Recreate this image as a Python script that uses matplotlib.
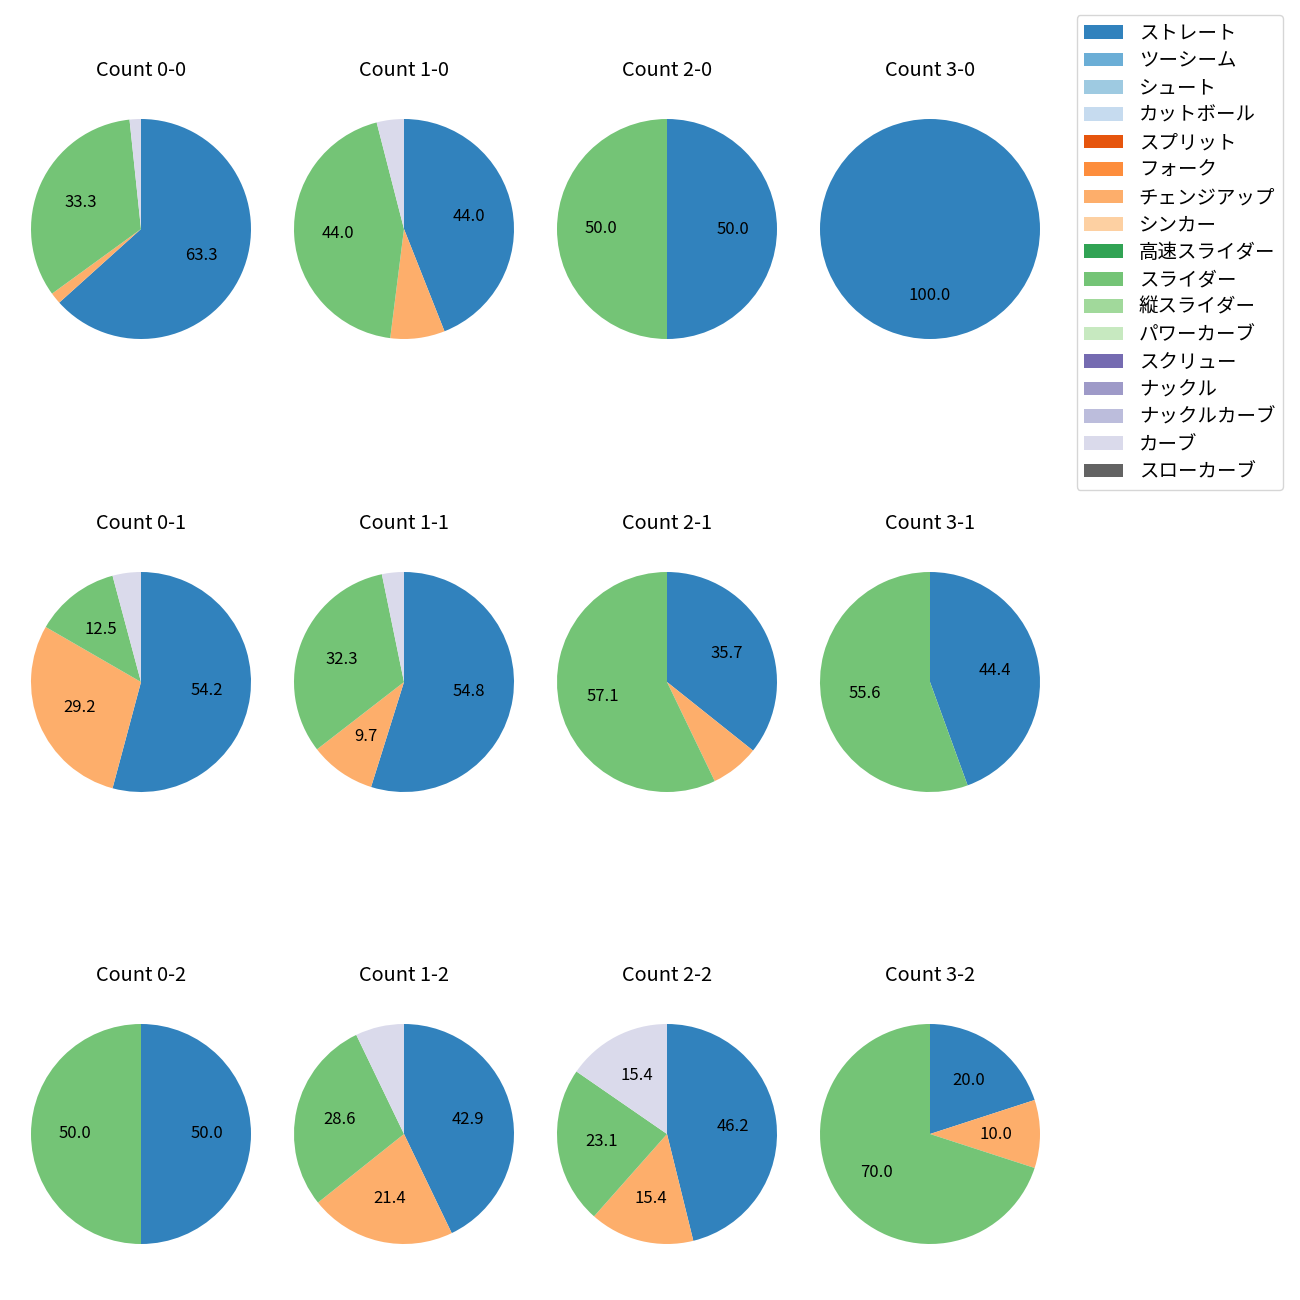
import matplotlib.pyplot as plt
from matplotlib.patches import Patch

plt.rcParams['font.family'] = ['Noto Sans CJK JP', 'DejaVu Sans']
plt.rcParams['font.size'] = 12

pitch_types = ["ストレート", "ツーシーム", "シュート", "カットボール", "スプリット", "フォーク",
               "チェンジアップ", "シンカー", "高速スライダー", "スライダー", "縦スライダー",
               "パワーカーブ", "スクリュー", "ナックル", "ナックルカーブ", "カーブ", "スローカーブ"]
colors = ["#3182bd", "#6baed6", "#9ecae1", "#c6dbef", "#e6550d", "#fd8d3c", "#fdae6b",
          "#fdd0a2", "#31a354", "#74c476", "#a1d99b", "#c7e9c0", "#756bb1", "#9e9ac8",
          "#bcbddc", "#dadaeb", "#636363"]

# pitch counts per count: ストレート, チェンジアップ, スライダー, カーブ
shown = ["ストレート", "チェンジアップ", "スライダー", "カーブ"]
counts = {
    "0-0": [38, 1, 20, 1],
    "1-0": [11, 2, 11, 1],
    "2-0": [1, 0, 1, 0],
    "3-0": [1, 0, 0, 0],
    "0-1": [13, 7, 3, 1],
    "1-1": [17, 3, 10, 1],
    "2-1": [5, 1, 8, 0],
    "3-1": [4, 0, 5, 0],
    "0-2": [1, 0, 1, 0],
    "1-2": [6, 3, 4, 1],
    "2-2": [6, 2, 3, 2],
    "3-2": [2, 1, 7, 0],
}
balls = ["0", "1", "2", "3"]
strikes = ["0", "1", "2"]

W = H = 1300
fig = plt.figure(figsize=(13, 13), dpi=100)
cx = [141, 404, 667, 930]
cy = [229, 682, 1134]
box = 275

for r, s in enumerate(strikes):
    for c, b in enumerate(balls):
        key = f"{b}-{s}"
        ax = fig.add_axes([(cx[c] - box / 2) / W, 1 - (cy[r] + box / 2) / H, box / W, box / H])
        vals = counts[key]
        v = [x for x in vals if x > 0]
        col = [colors[pitch_types.index(n)] for n, x in zip(shown, vals) if x > 0]
        ax.pie(v, colors=col, startangle=90, counterclock=False,
               autopct=lambda p: f"{p:.1f}" if p >= 9 else "",
               textprops={"fontsize": 12})
        ax.set_title(f"Count {key}", fontsize=14.4, pad=11)

handles = [Patch(facecolor=c) for c in colors]
fig.legend(handles, pitch_types, loc="upper right", bbox_to_anchor=(1283 / W, 1 - 15 / H),
           borderaxespad=0, fontsize=14, labelspacing=0.33)

fig.savefig("out.png", dpi=100)
